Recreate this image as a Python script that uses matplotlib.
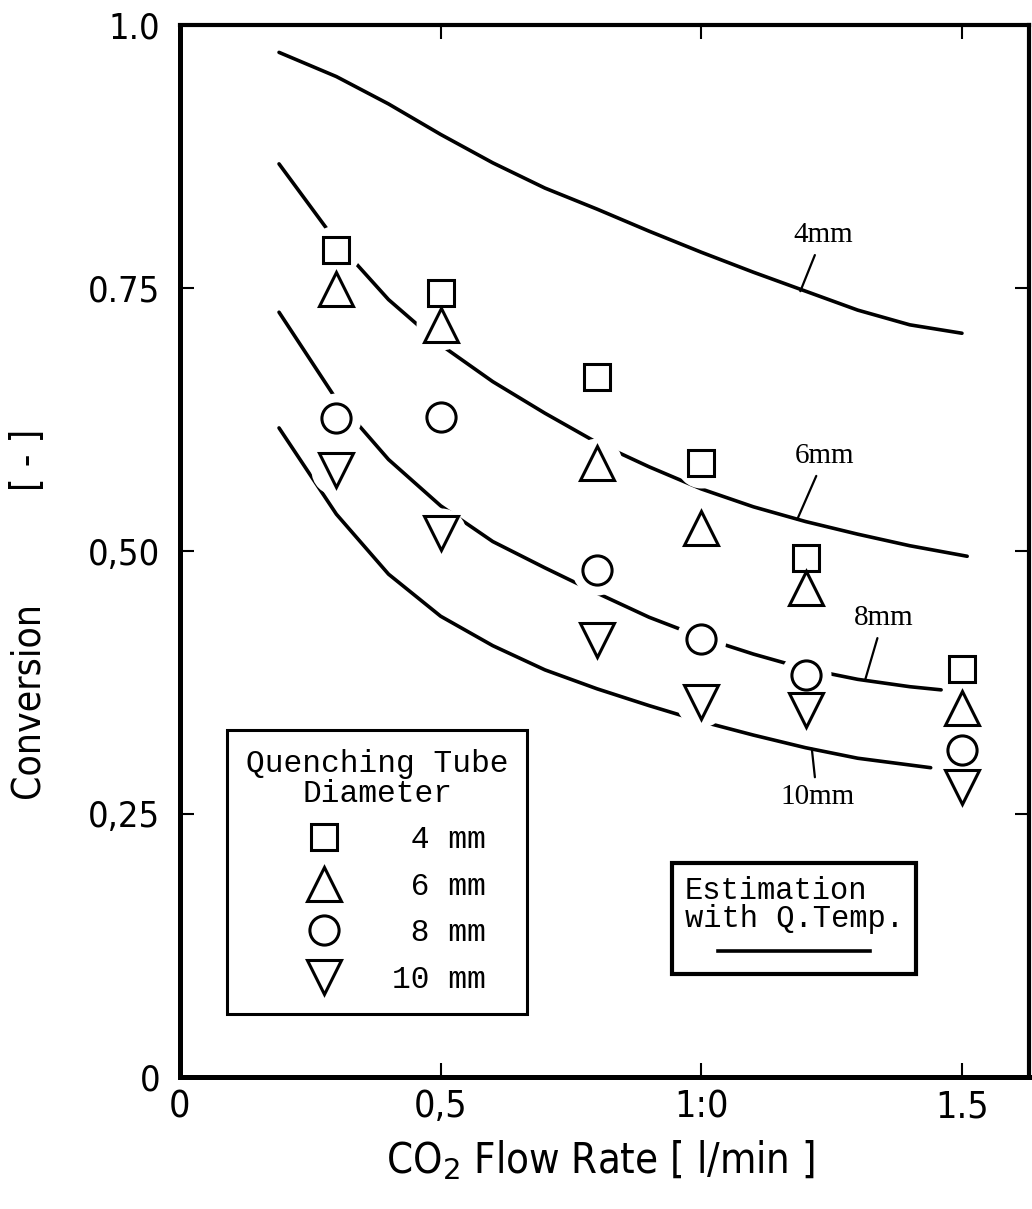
import matplotlib
matplotlib.use("Agg")
import matplotlib.pyplot as plt
from matplotlib.lines import Line2D


# Measured points (CO2 flow rate vs conversion) for each quenching tube diameter
FLOW = [0.3, 0.5, 0.8, 1.0, 1.2, 1.5]
CONV_4MM = [0.786, 0.745, 0.665, 0.584, 0.493, 0.388]
CONV_6MM = [0.749, 0.715, 0.584, 0.522, 0.465, 0.351]
CONV_8MM = [0.626, 0.627, 0.482, 0.416, 0.382, 0.311]
CONV_10MM = [0.577, 0.517, 0.415, 0.356, 0.349, 0.276]

DIAMETERS = [4, 6, 8, 10]

# Estimation curves (with quenching temperature)
EST_X_4MM = [0.19, 0.3, 0.4, 0.5, 0.6, 0.7, 0.8, 0.9, 1.0, 1.1, 1.2, 1.3, 1.4, 1.5]
EST_Y_4MM = [0.974, 0.951, 0.925, 0.896, 0.869, 0.845, 0.825, 0.804, 0.784, 0.765,
             0.747, 0.729, 0.715, 0.707]

EST_X_6MM = [0.19, 0.3, 0.4, 0.5, 0.6, 0.7, 0.8, 0.9, 1.0, 1.1, 1.2, 1.3, 1.4, 1.51]
EST_Y_6MM = [0.868, 0.794, 0.739, 0.696, 0.661, 0.631, 0.603, 0.580, 0.559, 0.542,
             0.528, 0.516, 0.505, 0.495]

EST_X_8MM = [0.19, 0.3, 0.4, 0.5, 0.6, 0.7, 0.8, 0.9, 1.0, 1.1, 1.2, 1.3, 1.4, 1.46]
EST_Y_8MM = [0.727, 0.644, 0.587, 0.543, 0.509, 0.484, 0.460, 0.437, 0.418, 0.402,
             0.388, 0.378, 0.371, 0.368]

EST_X_10MM = [0.19, 0.3, 0.4, 0.5, 0.6, 0.7, 0.8, 0.9, 1.0, 1.1, 1.2, 1.3, 1.44]
EST_Y_10MM = [0.617, 0.535, 0.478, 0.438, 0.410, 0.387, 0.369, 0.353, 0.338, 0.325,
              0.313, 0.303, 0.294]

X_TICKS = [0, 0.5, 1.0, 1.5]
X_TICK_LABELS = ["0", "0,5", "1:0", "1.5"]
Y_TICKS = [0, 0.25, 0.5, 0.75, 1.0]
Y_TICK_LABELS = ["0", "0,25", "0,50", "0.75", "1.0"]

SANS = "DejaVu Sans"
MONO = ["Liberation Mono", "DejaVu Sans Mono"]
SERIF = ["Liberation Serif", "DejaVu Serif"]


def main():
    fig = plt.figure(figsize=(10.32, 12.09), dpi=100)
    ax = fig.add_axes([0.1744, 0.1092, 0.8227, 0.8701])

    curves = [
        (EST_X_4MM, EST_Y_4MM),
        (EST_X_6MM, EST_Y_6MM),
        (EST_X_8MM, EST_Y_8MM),
        (EST_X_10MM, EST_Y_10MM),
    ]
    for xs, ys in curves:
        ax.plot(xs, ys, color="black", lw=2.6, solid_capstyle="round",
                solid_joinstyle="round", zorder=2)

    series = [CONV_4MM, CONV_6MM, CONV_8MM, CONV_10MM]
    markers = ["s", "^", "o", "v"]
    sizes = [19, 24, 21, 24]

    # white halo around markers breaks the curves like in the drawing
    for conv in series:
        ax.plot(FLOW, conv, ls="none", marker="o", ms=36, mfc="white", mec="none", zorder=3)

    for conv, m, s in zip(series, markers, sizes):
        ax.plot(FLOW, conv, ls="none", marker=m, ms=s, mfc="white", mec="black",
                mew=2.2, zorder=4)

    # curve labels with pointer lines
    label_kw = dict(ha="center", va="center", fontsize=21, family=SERIF,
                    arrowprops=dict(arrowstyle="-", lw=1.6, color="black", shrinkA=3, shrinkB=0))
    ax.annotate("4mm", xy=(1.19, 0.747), xytext=(1.233, 0.800), **label_kw)
    ax.annotate("6mm", xy=(1.184, 0.530), xytext=(1.237, 0.590), **label_kw)
    ax.annotate("8mm", xy=(1.314, 0.377), xytext=(1.349, 0.436), **label_kw)
    ax.annotate("10mm", xy=(1.212, 0.312), xytext=(1.222, 0.266), **label_kw)

    ax.set_xlim(0, 1.6286)
    ax.set_ylim(0, 1.0)
    ax.set_xticks(X_TICKS)
    ax.set_xticklabels(X_TICK_LABELS, family=SANS, stretch="condensed", fontsize=27)
    ax.set_yticks(Y_TICKS)
    ax.set_yticklabels(Y_TICK_LABELS, family=SANS, stretch="condensed", fontsize=26)
    ax.tick_params(direction="in", length=10, width=1.5, top=True, right=True)
    ax.tick_params(axis="x", pad=9)
    ax.tick_params(axis="y", pad=14)

    for side in ["left", "bottom"]:
        ax.spines[side].set_linewidth(3.6)
    for side in ["top", "right"]:
        ax.spines[side].set_linewidth(3.0)

    # Legend for measured points
    handles = [
        Line2D([], [], ls="none", marker=m, ms=s, mfc="white", mec="black", mew=2.2)
        for m, s in zip(markers, sizes)
    ]
    labels = [f"{d:>2} mm" for d in DIAMETERS]
    leg = ax.legend(
        handles, labels,
        title="Quenching Tube\nDiameter",
        loc="upper left", bbox_to_anchor=(0.0554, 0.330), borderaxespad=0,
        fancybox=False, edgecolor="black", framealpha=1,
        prop={"family": MONO, "size": 22.5},
        title_fontproperties={"family": MONO, "size": 22.5},
        alignment="center", handlelength=3.6, handletextpad=0.38,
        labelspacing=0.53, borderpad=0.6,
    )
    leg.get_title().set_multialignment("center")
    leg.get_title().set_linespacing(1.0)
    leg.get_frame().set_linewidth(2.2)
    leg.set_zorder(10)
    ax.add_artist(leg)

    # Legend for estimation curves
    est_handle = Line2D([], [], color="black", lw=2.6)
    leg2 = ax.legend(
        [est_handle], [""],
        title="Estimation\nwith Q.Temp.",
        loc="upper left", bbox_to_anchor=(0.5795, 0.2034), borderaxespad=0,
        fancybox=False, edgecolor="black", framealpha=1,
        prop={"family": MONO, "size": 14},
        title_fontproperties={"family": MONO, "size": 22},
        alignment="center", handlelength=7.8, handletextpad=0,
        borderpad=0.65,
    )
    leg2.get_title().set_multialignment("left")
    leg2.get_title().set_linespacing(0.95)
    leg2.get_frame().set_linewidth(3.0)
    leg2.set_zorder(10)

    # Axis titles
    fig.text(600 / 1032, 1 - 1160 / 1209, r"CO$_\mathrm{2}$ Flow Rate [ l/min ]",
             ha="center", va="center", family=SANS, stretch="condensed", fontsize=30)
    fig.text(28 / 1032, 1 - 700 / 1209, "Conversion", rotation=90,
             ha="center", va="center", family=SANS, stretch="condensed", fontsize=28)
    fig.text(28 / 1032, 1 - 460 / 1209, "[ - ]", rotation=90,
             ha="center", va="center", family=SANS, stretch="condensed", fontsize=28)

    fig.savefig("out.png", dpi=100)


if __name__ == "__main__":
    main()
